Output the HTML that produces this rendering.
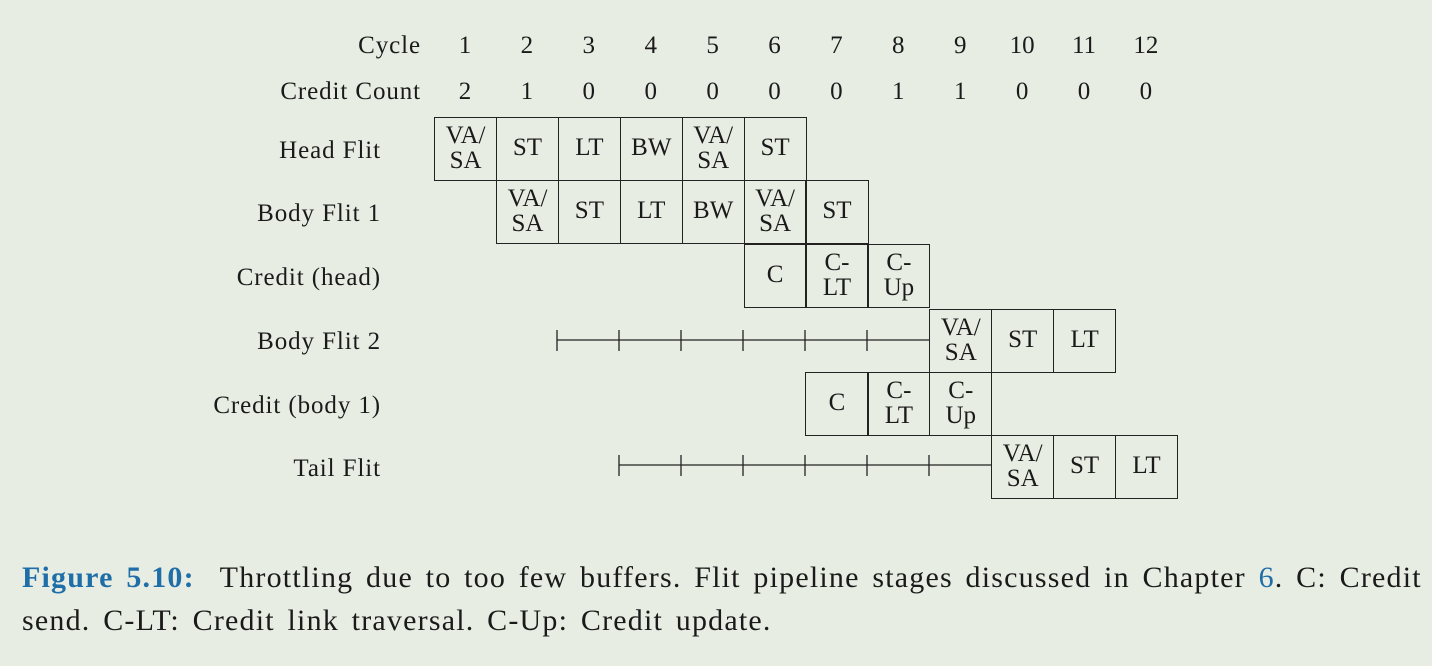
<!DOCTYPE html>
<html><head><meta charset="utf-8"><style>
body{margin:0;width:1432px;height:666px;background:#e8ede4;font-family:"Liberation Serif",serif;color:#1a1a1a;position:relative;overflow:hidden}
.t{position:absolute;font-size:25px;white-space:nowrap;letter-spacing:0.9px}
.r{text-align:right;width:300px}
.c{text-align:center;width:62px;letter-spacing:0}
.b{position:absolute;border:1.3px solid #222;box-sizing:border-box;display:flex;align-items:center;justify-content:center;text-align:center;font-size:25px;line-height:25px;background:transparent}
.cap{position:absolute;left:22px;font-size:30px;white-space:nowrap;letter-spacing:1.2px;word-spacing:4px}
</style></head><body>
<div class="t r" style="left:121px;top:32px">Cycle</div>
<div class="t r" style="left:121px;top:78px">Credit Count</div>
<div class="t r" style="left:81px;top:137px">Head Flit</div>
<div class="t r" style="left:81px;top:200px">Body Flit 1</div>
<div class="t r" style="left:81px;top:264px">Credit (head)</div>
<div class="t r" style="left:81px;top:328px">Body Flit 2</div>
<div class="t r" style="left:81px;top:392px">Credit (body 1)</div>
<div class="t r" style="left:81px;top:455px">Tail Flit</div>
<div id="g"></div>
<svg style="position:absolute;left:0;top:0" width="1432" height="666">
<g stroke="#222" stroke-width="1.3">
<line x1="557" y1="340" x2="929" y2="340"/>
<line x1="557" y1="330" x2="557" y2="351"/><line x1="619" y1="330" x2="619" y2="351"/><line x1="681" y1="330" x2="681" y2="351"/><line x1="743" y1="330" x2="743" y2="351"/><line x1="805" y1="330" x2="805" y2="351"/><line x1="867" y1="330" x2="867" y2="351"/>
<line x1="619" y1="465" x2="991" y2="465"/>
<line x1="619" y1="455" x2="619" y2="476"/><line x1="681" y1="455" x2="681" y2="476"/><line x1="743" y1="455" x2="743" y2="476"/><line x1="805" y1="455" x2="805" y2="476"/><line x1="867" y1="455" x2="867" y2="476"/><line x1="929" y1="455" x2="929" y2="476"/>
</g></svg>
<div class="cap" style="top:561px"><b style="color:#1f6ea8">Figure 5.10:</b>&nbsp; Throttling due to too few buffers. Flit pipeline stages discussed in Chapter <span style="color:#1f6ea8">6</span>. C: Credit</div>
<div class="cap" style="top:604px">send. C-LT: Credit link traversal. C-Up: Credit update.</div>
<script>
var X=function(i){return 434+(i-1)*61.9};
var rows=[117,180,244,309,372,435];
var cells=[
[0,1,"VA/<br>SA"],[0,2,"ST"],[0,3,"LT"],[0,4,"BW"],[0,5,"VA/<br>SA"],[0,6,"ST"],
[1,2,"VA/<br>SA"],[1,3,"ST"],[1,4,"LT"],[1,5,"BW"],[1,6,"VA/<br>SA"],[1,7,"ST"],
[2,6,"C"],[2,7,"C-<br>LT"],[2,8,"C-<br>Up"],
[3,9,"VA/<br>SA"],[3,10,"ST"],[3,11,"LT"],
[4,7,"C"],[4,8,"C-<br>LT"],[4,9,"C-<br>Up"],
[5,10,"VA/<br>SA"],[5,11,"ST"],[5,12,"LT"]];
var h="";
cells.forEach(function(c){var x=X(c[1]);var two=c[2].indexOf("<br>")>=0;h+='<div class="b" style="left:'+x+'px;top:'+rows[c[0]]+'px;width:63.2px;height:64.3px"><div style="margin-top:'+(two?-2:-4)+'px">'+c[2]+'</div></div>';});
var cc=[2,1,0,0,0,0,0,1,1,0,0,0];
for(var i=1;i<=12;i++){h+='<div class="t c" style="left:'+X(i)+'px;top:32px">'+i+'</div><div class="t c" style="left:'+X(i)+'px;top:78px">'+cc[i-1]+'</div>';}
document.getElementById("g").innerHTML=h;
</script>
</body></html>
